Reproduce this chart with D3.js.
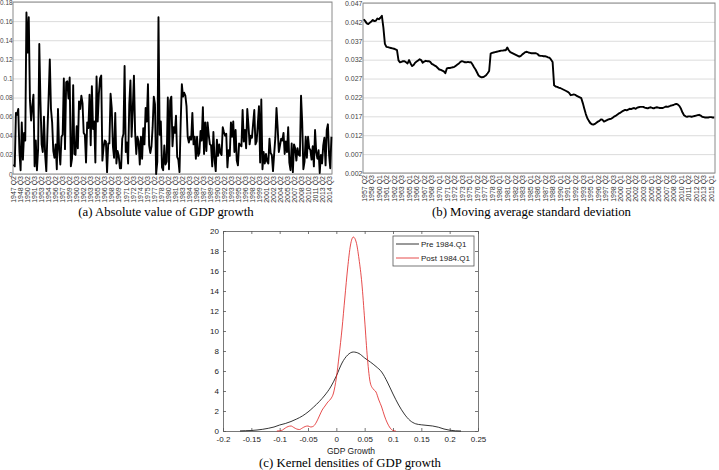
<!DOCTYPE html>
<html><head><meta charset="utf-8">
<script src="https://cdn.jsdelivr.net/npm/d3@7"></script>
<style>body{margin:0;background:#fff}svg{display:block}</style>
</head><body><svg id="c" width="719" height="470"></svg>
<script>
// ---------- Panel (a): absolute value of GDP growth, 1947 Q2 .. 2015 Q2 ----------
const absGrowth = [
0.010,0.008,0.064,
0.062,0.068,0.023,0.004, 0.054,0.015,0.043,0.035, 0.169,0.127,0.164,0.077, 0.056,0.071,0.083,0.008,
0.035,0.004,0.026,0.136, 0.076,0.031,0.023,0.060, 0.020,0.003,0.045,0.081, 0.120,0.068,0.054,0.024,
0.017,0.031,0.005,0.068, 0.025,0.010,0.039,0.041, 0.100,0.026,0.096,0.097, 0.079,0.101,0.008,0.016,
0.093,0.021,0.020,0.050, 0.027,0.076,0.068,0.082, 0.074,0.043,0.041,0.012, 0.054,0.048,0.083,0.030,
0.092,0.047,0.055,0.012, 0.102,0.055,0.084,0.100, 0.103,0.014,0.028,0.035, 0.034,0.002,0.032,0.032,
0.084,0.069,0.029,0.017, 0.064,0.011,0.024,0.019, 0.006,0.006,0.037,0.042, 0.113,0.023,0.033,0.011,
0.073,0.098,0.039,0.068, 0.103,0.044,0.021,0.039, 0.034,0.010,0.039,0.016, 0.048,0.031,0.069,0.055,
0.094,0.030,0.022,0.029, 0.049,0.081,0.073,0.000, 0.013,0.164,0.041,0.055, 0.007,0.004,0.030,0.010,
0.013,0.080,0.005,0.077, 0.081,0.029,0.049,0.043, 0.061,0.018,0.015,0.002, 0.054,0.094,0.081,0.085,
0.082,0.071,0.039,0.033, 0.039,0.036,0.064,0.031, 0.039,0.016,0.039,0.019, 0.022,0.045,0.035,0.070,
0.021,0.054,0.024,0.054, 0.041,0.031,0.030,0.008, 0.044,0.015,0.003,0.036, 0.019,0.031,0.022,0.020,
0.049,0.044,0.040,0.042, 0.007,0.025,0.019,0.054, 0.039,0.055,0.023,0.046, 0.014,0.009,0.032,0.030,
0.029,0.067,0.034,0.046, 0.027,0.068,0.051,0.031, 0.040,0.038,0.053,0.067, 0.031,0.034,0.052,0.071,
0.012,0.078,0.005,0.023, 0.011,0.021,0.013,0.011, 0.037,0.022,0.020,0.003, 0.021,0.038,0.069,0.048,
0.023,0.030,0.037,0.035, 0.043,0.021,0.034,0.023, 0.049,0.012,0.004,0.032, 0.002,0.031,0.027,0.014,
0.027,0.020,0.019,0.082, 0.054,0.005,0.013,0.039, 0.017,0.039,0.027,0.025, 0.015,0.029,0.008,0.046,
0.023,0.016,0.025,0.001, 0.020,0.011,0.030,0.038, 0.009,0.046,0.052,0.020, 0.006,0.039];
const absLabels = [
"1947 Q2","1948 Q3","1950 Q2","1951 Q3","1953 Q2","1954 Q3","1956 Q2","1957 Q3","1959 Q2","1960 Q3",
"1962 Q2","1963 Q3","1965 Q2","1966 Q3","1968 Q2","1969 Q3","1971 Q2","1972 Q3","1974 Q2","1975 Q3",
"1977 Q2","1978 Q3","1980 Q2","1981 Q3","1983 Q2","1984 Q3","1986 Q2","1987 Q3","1989 Q2","1990 Q3",
"1992 Q2","1993 Q3","1995 Q2","1996 Q3","1998 Q2","1999 Q3","2001 Q2","2002 Q3","2004 Q2","2005 Q3",
"2007 Q2","2008 Q3","2010 Q2","2011 Q3","2013 Q2","2014 Q3"];
const absLabelStep = 6;
const yTicksA = [0,0.02,0.04,0.06,0.08,0.1,0.12,0.14,0.16,0.18];

// ---------- Panel (b): moving average standard deviation, 1957 Q2 .. 2015 Q2 ----------
const sdValues = [
0.0427,0.0422,0.0416,0.0414,0.0418,0.0421,0.0425,0.0422,0.0423,0.0429,0.0427,0.0431,0.0436,0.0405,0.0362,
0.0354,0.0353,0.0352,0.0351,0.0350,0.0349,0.0347,0.0345,
0.0318,0.0313,0.0314,0.0316,0.0316,0.0313,0.0310,0.0319,0.0310,0.0303,0.0306,0.0312,0.0315,0.0318,0.0321,0.0319,0.0312,0.0315,
0.0317,0.0316,0.0316,0.0314,0.0309,0.0307,0.0304,0.0302,0.0298,0.0294,0.0293,0.0291,0.0289,0.0284,0.0297,0.0298,0.0298,0.0299,
0.0300,0.0301,0.0304,0.0307,0.0310,0.0314,0.0316,0.0315,0.0313,0.0313,0.0314,0.0313,0.0313,0.0307,0.0300,0.0294,0.0286,0.0278,
0.0275,0.0273,0.0274,0.0276,0.0279,0.0284,0.0290,0.0336,0.0338,0.0339,0.0340,0.0341,0.0342,0.0343,0.0344,0.0344,0.0345,0.0345,
0.0352,0.0345,0.0340,0.0338,0.0336,0.0334,0.0332,0.0330,0.0328,0.0330,0.0334,0.0337,0.0340,0.0341,0.0339,0.0338,0.0337,0.0337,
0.0337,0.0337,0.0335,0.0331,0.0330,0.0330,0.0329,0.0329,0.0328,0.0326,0.0325,0.0320,0.0314,0.0252,0.0249,0.0248,0.0246,0.0245,
0.0243,0.0241,0.0239,0.0237,0.0235,0.0232,0.0226,0.0227,0.0228,0.0227,0.0224,0.0222,0.0220,0.0218,0.0205,0.0190,0.0176,0.0165,
0.0158,0.0152,0.0149,0.0148,0.0150,0.0153,0.0156,0.0158,0.0162,0.0161,0.0156,0.0158,0.0160,0.0162,0.0163,0.0164,0.0167,0.0170,
0.0172,0.0175,0.0178,0.0180,0.0183,0.0185,0.0187,0.0186,0.0188,0.0190,0.0189,0.0191,0.0192,0.0190,0.0193,0.0194,0.0195,0.0195,
0.0195,0.0193,0.0192,0.0191,0.0193,0.0194,0.0192,0.0191,0.0193,0.0194,0.0193,0.0192,0.0192,0.0192,0.0194,0.0196,0.0195,0.0196,
0.0198,0.0199,0.0200,0.0202,0.0203,0.0201,0.0197,0.0190,0.0180,0.0173,0.0170,0.0169,0.0170,0.0170,0.0169,0.0170,0.0171,0.0172,
0.0173,0.0174,0.0172,0.0169,0.0168,0.0167,0.0167,0.0167,0.0168,0.0168,0.0167,0.0167];
const sdLabels = [
"1957 Q2","1958 Q3","1960 Q1","1961 Q2","1962 Q2","1963 Q3","1965 Q1","1966 Q2","1967 Q2","1968 Q3",
"1970 Q1","1971 Q2","1972 Q2","1973 Q3","1975 Q1","1976 Q2","1977 Q2","1978 Q3","1980 Q1","1981 Q2",
"1982 Q2","1983 Q3","1985 Q1","1986 Q2","1987 Q2","1988 Q3","1990 Q1","1991 Q2","1992 Q2","1993 Q3",
"1995 Q1","1996 Q2","1997 Q2","1998 Q3","2000 Q1","2001 Q2","2002 Q2","2003 Q3","2005 Q1","2006 Q2",
"2007 Q2","2008 Q3","2010 Q1","2011 Q2","2012 Q2","2013 Q3","2015 Q1"];
const sdLabelStep = 5;
const yTicksB = [0.002,0.007,0.012,0.017,0.022,0.027,0.032,0.037,0.042,0.047];

// ---------- Panel (c): kernel densities ----------
const preX = [-0.17,-0.16,-0.15,-0.14,-0.13,-0.12,-0.11,-0.10,-0.09,-0.08,-0.07,-0.06,-0.05,-0.04,-0.03,-0.02,-0.01,
  0.00,0.01,0.02,0.03,0.04,0.05,0.06,0.07,0.08,0.09,0.10,0.11,0.12,0.13,0.14,0.15,0.16,0.17,0.18,0.19,0.20,0.21,0.22];
const preY = [0.01,0.03,0.05,0.10,0.17,0.27,0.40,0.60,0.75,0.95,1.20,1.50,1.90,2.40,2.95,3.60,4.40,
  5.50,6.80,7.60,7.90,7.75,7.30,6.90,6.45,5.90,4.90,3.70,2.60,1.70,1.05,0.72,0.62,0.56,0.50,0.38,0.20,0.08,0.02,0.00];
const postX = [-0.105,-0.10,-0.095,-0.09,-0.085,-0.08,-0.075,-0.07,-0.065,-0.06,-0.055,-0.05,-0.045,-0.04,-0.035,-0.03,-0.025,-0.02,-0.015,-0.01,-0.005,
  0.00,0.005,0.01,0.015,0.02,0.025,0.03,0.035,0.04,0.045,0.05,0.055,0.06,0.065,0.07,0.075,0.08,0.085,0.09,0.095,0.10,0.105];
const postY = [0.00,0.02,0.10,0.30,0.45,0.50,0.35,0.20,0.15,0.30,0.45,0.50,0.40,0.50,0.90,1.50,2.10,2.50,2.90,3.20,3.80,
  5.30,7.60,10.2,13.3,16.3,18.6,19.4,18.9,17.2,14.8,11.1,7.20,4.80,4.20,3.90,3.10,2.40,1.50,0.80,0.30,0.05,0.00];
const xTicksC = [-0.2,-0.15,-0.1,-0.05,0,0.05,0.1,0.15,0.2,0.25];
const yTicksC = [0,2,4,6,8,10,12,14,16,18,20];
const legendNames = ["Pre 1984.Q1","Post 1984.Q1"];
const captions = ["(a) Absolute value of GDP growth","(b) Moving average standard deviation","(c) Kernel densities of GDP growth"];

const svg = d3.select("#c");
const SANS = "Liberation Sans, Arial, sans-serif";
const SERIF = "Liberation Serif, Times New Roman, serif";
const fmt = v => String(+v.toFixed(4));

function excelPanel(opts){
  const {x0,x1,y0,y1,values,labels,step,yTicks,yDomain,yFont} = opts;
  const x = d3.scalePoint().domain(d3.range(values.length)).range([x0,x1]).padding(0.5);
  const y = d3.scaleLinear().domain(yDomain).range([y1,y0]);
  const g = svg.append("g");
  g.append("g").attr("transform",`translate(${x0},0)`)
    .call(d3.axisLeft(y).tickValues(yTicks).tickSize(-(x1-x0)).tickFormat(""))
    .call(s=>{s.select(".domain").remove(); s.selectAll("line").attr("stroke","#dcdcdc").attr("stroke-width",1);});
  g.append("rect").attr("x",x0).attr("y",y0).attr("width",x1-x0).attr("height",y1-y0)
    .attr("fill","none").attr("stroke","#8a8a8a").attr("stroke-width",1);
  g.append("g").attr("transform",`translate(${x0},0)`)
    .call(d3.axisLeft(y).tickValues(yTicks).tickSize(0).tickPadding(0.5).tickFormat(fmt))
    .call(s=>{s.select(".domain").remove(); s.selectAll("text").attr("font-family",SANS).attr("font-size",yFont).attr("fill","#444");});
  const idx = labels.map((_,i)=>i*step);
  g.append("g").attr("transform",`translate(0,${y1})`)
    .call(d3.axisBottom(x).tickValues(idx).tickSize(0).tickFormat((d,i)=>labels[i]))
    .call(s=>{s.select(".domain").remove();
      s.selectAll("text").attr("font-family",SANS).attr("font-size",7).attr("fill","#333")
       .attr("text-anchor","end").attr("dy","0.32em").attr("y",0)
       .attr("transform","translate(0,2) rotate(-90)");});
  g.append("path").datum(values)
    .attr("d",d3.line().x((d,i)=>x(i)).y(d=>y(d)))
    .attr("fill","none").attr("stroke","#000").attr("stroke-width",1.9).attr("stroke-linejoin","round");
}

excelPanel({x0:13,x1:332,y0:2,y1:174,values:absGrowth,labels:absLabels,step:absLabelStep,yTicks:yTicksA,yDomain:[0,0.18],yFont:6.4});
excelPanel({x0:363,x1:715,y0:3,y1:173,values:sdValues,labels:sdLabels,step:sdLabelStep,yTicks:yTicksB,yDomain:[0.002,0.047],yFont:7});

const capFont = 12.8;
svg.append("text").attr("x",166).attr("y",216).attr("text-anchor","middle").attr("font-family",SERIF).attr("font-size",capFont).text(captions[0]);
svg.append("text").attr("x",531.5).attr("y",216).attr("text-anchor","middle").attr("font-family",SERIF).attr("font-size",capFont).text(captions[1]);

// ---------- panel c ----------
const cx0=223,cx1=478,cy0=231,cy1=431;
const xc = d3.scaleLinear().domain([-0.2,0.25]).range([cx0,cx1]);
const yc = d3.scaleLinear().domain([0,20]).range([cy1,cy0]);
const gc = svg.append("g");
const axStyle = s=>{s.select(".domain").attr("stroke","#555").attr("stroke-width",0.8);
  s.selectAll(".tick line").attr("stroke","#555").attr("stroke-width",0.8);
  s.selectAll("text").attr("font-family",SANS).attr("font-size",8).attr("fill","#222");};
gc.append("g").attr("transform",`translate(0,${cy1})`)
  .call(d3.axisBottom(xc).tickValues(xTicksC).tickSizeInner(-3).tickSizeOuter(0).tickPadding(5).tickFormat(fmt)).call(axStyle);
gc.append("g").attr("transform",`translate(0,${cy0})`)
  .call(d3.axisTop(xc).tickValues(xTicksC).tickSizeInner(-3).tickSizeOuter(0).tickFormat("")).call(axStyle);
gc.append("g").attr("transform",`translate(${cx0},0)`)
  .call(d3.axisLeft(yc).tickValues(yTicksC).tickSizeInner(-3).tickSizeOuter(0).tickPadding(4).tickFormat(fmt)).call(axStyle);
gc.append("g").attr("transform",`translate(${cx1},0)`)
  .call(d3.axisRight(yc).tickValues(yTicksC).tickSizeInner(-3).tickSizeOuter(0).tickFormat("")).call(axStyle);

const lineC = d3.line().curve(d3.curveMonotoneX);
gc.append("path").attr("d",lineC(preX.map((v,i)=>[xc(v),yc(preY[i])])))
  .attr("fill","none").attr("stroke","#000").attr("stroke-width",0.8);
gc.append("path").attr("d",lineC(postX.map((v,i)=>[xc(v),yc(postY[i])])))
  .attr("fill","none").attr("stroke","#e02020").attr("stroke-width",0.8);

const lg = gc.append("g");
lg.append("rect").attr("x",393).attr("y",236).attr("width",81).attr("height",30)
  .attr("fill","#fff").attr("stroke","#555").attr("stroke-width",0.8);
const lcol = ["#000","#e02020"];
legendNames.forEach((n,i)=>{
  const yy = 244 + i*14;
  lg.append("line").attr("x1",396).attr("x2",419).attr("y1",yy).attr("y2",yy).attr("stroke",lcol[i]).attr("stroke-width",0.8);
  lg.append("text").attr("x",421).attr("y",yy).attr("dy","0.35em").attr("font-family",SANS).attr("font-size",8).attr("fill","#222").text(n);
});
svg.append("text").attr("x",351).attr("y",454).attr("text-anchor","middle").attr("font-family",SANS).attr("font-size",8.5).attr("fill","#222").text("GDP Growth");
svg.append("text").attr("x",350).attr("y",467).attr("text-anchor","middle").attr("font-family",SERIF).attr("font-size",capFont).text(captions[2]);
</script></body></html>
